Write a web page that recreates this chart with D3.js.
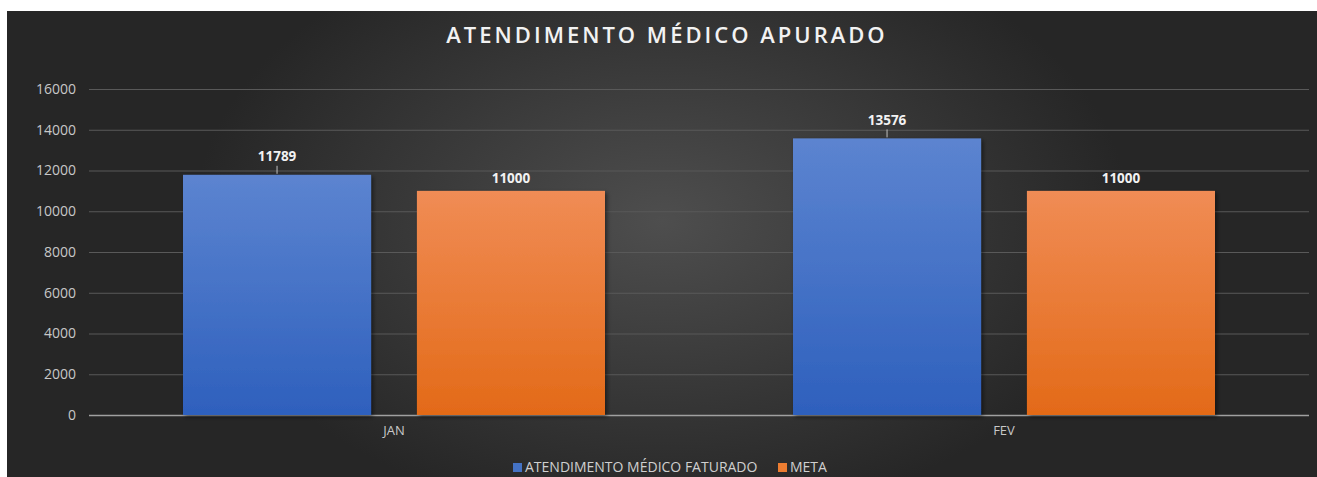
<!DOCTYPE html>
<html><head><meta charset="utf-8">
<script src="https://cdn.jsdelivr.net/npm/d3@7/dist/d3.min.js"></script>
<style>body{margin:0;background:#fff;}svg{display:block;}</style>
</head><body>
<script>
const categories = ["JAN", "FEV"];
const seriesNames = ["ATENDIMENTO MÉDICO FATURADO", "META"];
const faturado = [11789, 13576];
const meta = [11000, 11000];
const yTicks = [0, 2000, 4000, 6000, 8000, 10000, 12000, 14000, 16000];
const title = "ATENDIMENTO MÉDICO APURADO";

const W = 1317, H = 477;
const svg = d3.select("body").append("svg").attr("width", W).attr("height", H);
const defs = svg.append("defs");
const bg = defs.append("radialGradient").attr("id","bg").attr("cx","50%").attr("cy","45%").attr("r","65%")
  .attr("gradientTransform","translate(0.5,0.45) scale(0.55,1) translate(-0.5,-0.45)");
bg.append("stop").attr("offset","0%").attr("stop-color","#4e4e4e");
bg.append("stop").attr("offset","100%").attr("stop-color","#262626");
const gb = defs.append("linearGradient").attr("id","gBlue").attr("x1",0).attr("y1",0).attr("x2",0).attr("y2",1);
gb.append("stop").attr("offset","0%").attr("stop-color","#5c84d0");
gb.append("stop").attr("offset","100%").attr("stop-color","#2e60bd");
const go = defs.append("linearGradient").attr("id","gOrange").attr("x1",0).attr("y1",0).attr("x2",0).attr("y2",1);
go.append("stop").attr("offset","0%").attr("stop-color","#f08c55");
go.append("stop").attr("offset","100%").attr("stop-color","#e36a18");
const sh = defs.append("filter").attr("id","shadow").attr("x","-10%").attr("y","-10%").attr("width","130%").attr("height","130%");
sh.append("feDropShadow").attr("dx",2).attr("dy",2).attr("stdDeviation",2).attr("flood-color","#000").attr("flood-opacity",0.5);

svg.append("rect").attr("x",7).attr("y",11).attr("width",W-7).attr("height",H-11).attr("fill","url(#bg)");

const fontF = "'Open Sans', 'Noto Sans', sans-serif";
svg.append("text").attr("x",667).attr("y",43).attr("text-anchor","middle")
  .attr("fill","#f2f2f2").attr("font-family",fontF).attr("font-weight",600).attr("font-size",22)
  .attr("letter-spacing","3px").text(title);

const plotL = 89, plotR = 1309, plotT = 89, plotB = 415;
const y = d3.scaleLinear().domain([0, 16000]).range([plotB, plotT]);
const x0 = d3.scaleBand().domain(categories).range([plotL, plotR]).paddingInner(0).paddingOuter(0);
const x1 = d3.scaleBand().domain(seriesNames).range([94, 610-94]).paddingInner(0.196).paddingOuter(0);

// grid
const yAxis = d3.axisLeft(y).tickValues(yTicks).tickFormat(d3.format("d")).tickSize(-(plotR-plotL)).tickPadding(13);
const ga = svg.append("g").attr("transform",`translate(${plotL},0)`).call(yAxis);
ga.select(".domain").remove();
ga.selectAll(".tick line").attr("stroke","#595959").attr("stroke-width",1);
ga.selectAll(".tick").filter(d=>d===0).select("line").attr("stroke","#a0a0a0").attr("stroke-width",1.5);
ga.selectAll(".tick text").attr("fill","#c8c8c8").attr("font-family",fontF).attr("font-size",14);

const xAxis = d3.axisBottom(x0).tickSize(0).tickPadding(11);
const gx = svg.append("g").attr("transform",`translate(0,${plotB})`).call(xAxis);
gx.select(".domain").remove();
gx.selectAll(".tick text").attr("fill","#c8c8c8").attr("font-family",fontF).attr("font-size",13);

const data = [faturado, meta];
const fills = ["url(#gBlue)","url(#gOrange)"];
categories.forEach((c, ci) => {
  seriesNames.forEach((s, si) => {
    const v = data[si][ci];
    const bx = x0(c) + x1(s), bw = x1.bandwidth();
    svg.append("rect").attr("x",bx).attr("y",y(v)).attr("width",bw).attr("height",plotB-y(v))
      .attr("fill",fills[si]).attr("filter","url(#shadow)");
    const cx = bx + bw/2;
    const lift = si===0 ? 12 : 8;
    if (si===0) {
      svg.append("line").attr("x1",cx).attr("x2",cx).attr("y1",y(v)-1).attr("y2",y(v)-9)
        .attr("stroke","#bfbfbf").attr("stroke-width",1);
    }
    svg.append("text").attr("x",cx).attr("y",y(v)-lift - (si===0 ? 0 : 0)).attr("text-anchor","middle")
      .attr("dy", si===0 ? "-0.1em" : "0")
      .attr("fill","#f2f2f2").attr("font-family",fontF).attr("font-weight",700).attr("font-size",13.5)
      .text(v);
  });
});

// legend
const lg = svg.append("g").attr("font-family",fontF).attr("font-size",14).attr("fill","#d0d0d0");
const legendItems = [{x:513, c:"#4472c4"},{x:778, c:"#ed7d31"}];
seriesNames.forEach((s,i)=>{
  lg.append("rect").attr("x",legendItems[i].x).attr("y",463).attr("width",9).attr("height",9).attr("fill",legendItems[i].c);
  lg.append("text").attr("x",legendItems[i].x+12).attr("y",472).text(s);
});
</script>
</body></html>
